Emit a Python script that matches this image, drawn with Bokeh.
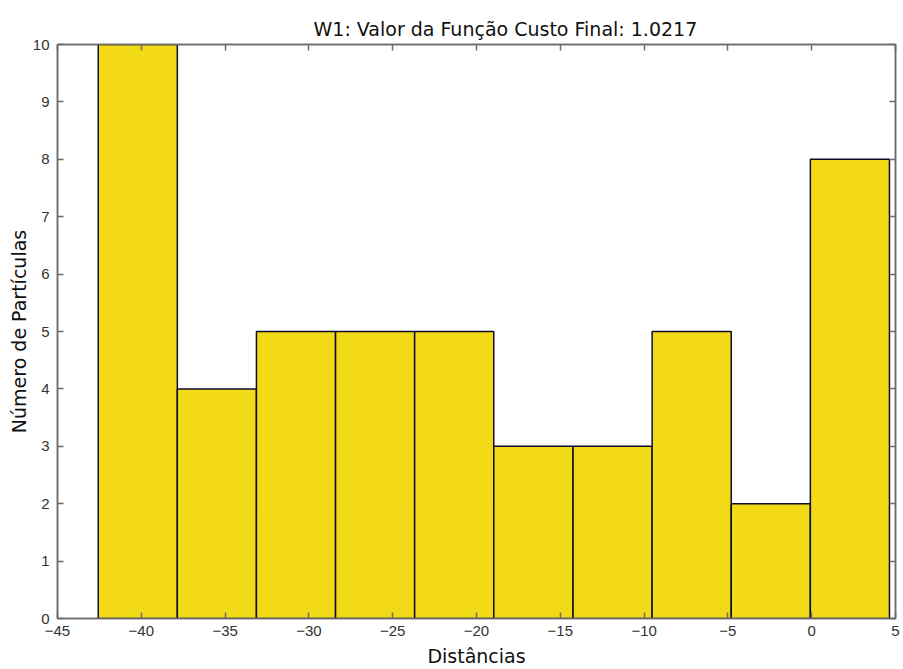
from bokeh.plotting import figure
from bokeh.models import LinearAxis, FixedTicker, Title
from bokeh.embed import file_html
from bokeh.resources import INLINE

# Histogram data
bin_edges = [-42.57, -37.85, -33.13, -28.41, -23.69, -18.97, -14.24, -9.52, -4.80, -0.08, 4.64]
counts = [10, 4, 5, 5, 5, 3, 3, 5, 2, 8]
x_ticks = [-45, -40, -35, -30, -25, -20, -15, -10, -5, 0, 5]
y_ticks = [0, 1, 2, 3, 4, 5, 6, 7, 8, 9, 10]
title_text = "W1: Valor da Função Custo Final: 1.0217"
x_label = "Distâncias"
y_label = "Número de Partículas"

AX = "#6b6b6b"
LBL = "#333333"

p = figure(width=900, height=669, x_range=(-45, 5), y_range=(0, 10),
           output_backend="svg", toolbar_location=None,
           min_border_left=57, min_border_right=5, min_border_top=44, min_border_bottom=51,
           x_axis_location=None, y_axis_location=None)
p.grid.visible = False
p.outline_line_color = AX
p.outline_line_width = 1.5
p.background_fill_color = "white"
p.border_fill_color = "white"

p.quad(left=bin_edges[:-1], right=bin_edges[1:], bottom=[0] * len(counts), top=counts,
       fill_color="#F2DA17", line_color="#0d0d2b", line_width=1.5)

def style(ax, show_labels):
    ax.axis_line_color = AX
    ax.axis_line_width = 1.5
    ax.major_tick_line_color = AX
    ax.major_tick_line_width = 1.5
    ax.major_tick_in = 6
    ax.major_tick_out = 0
    ax.minor_tick_line_color = None
    ax.major_label_text_font = "Liberation Sans"
    ax.major_label_text_font_size = "15px"
    ax.major_label_text_color = LBL
    ax.major_label_standoff = 6
    if not show_labels:
        ax.major_label_text_color = None
        ax.major_label_text_font_size = "0px"
        ax.major_label_standoff = 0

xb = LinearAxis(ticker=FixedTicker(ticks=x_ticks), axis_label=x_label)
style(xb, True)
xb.major_label_standoff = 7
xb.axis_label_text_font = "DejaVu Sans"
xb.axis_label_text_font_size = "19px"
xb.axis_label_text_font_style = "normal"
xb.axis_label_text_color = "#111111"
xb.axis_label_standoff = 6
p.add_layout(xb, "below")

yl = LinearAxis(ticker=FixedTicker(ticks=y_ticks), axis_label=y_label)
style(yl, True)
yl.major_label_standoff = 8
yl.axis_label_text_font = "DejaVu Sans"
yl.axis_label_text_font_size = "19px"
yl.axis_label_text_font_style = "normal"
yl.axis_label_text_color = "#111111"
yl.axis_label_standoff = 0
p.add_layout(yl, "left")

xt = LinearAxis(ticker=FixedTicker(ticks=x_ticks))
style(xt, False)
p.add_layout(xt, "above")

yr = LinearAxis(ticker=FixedTicker(ticks=y_ticks))
style(yr, False)
p.add_layout(yr, "right")

p.title = Title(text=title_text, align="left", offset=256,
                text_font="DejaVu Sans", text_font_size="19px",
                text_font_style="normal", text_color="#111111")

open("out.html", "w").write(file_html(p, INLINE))
